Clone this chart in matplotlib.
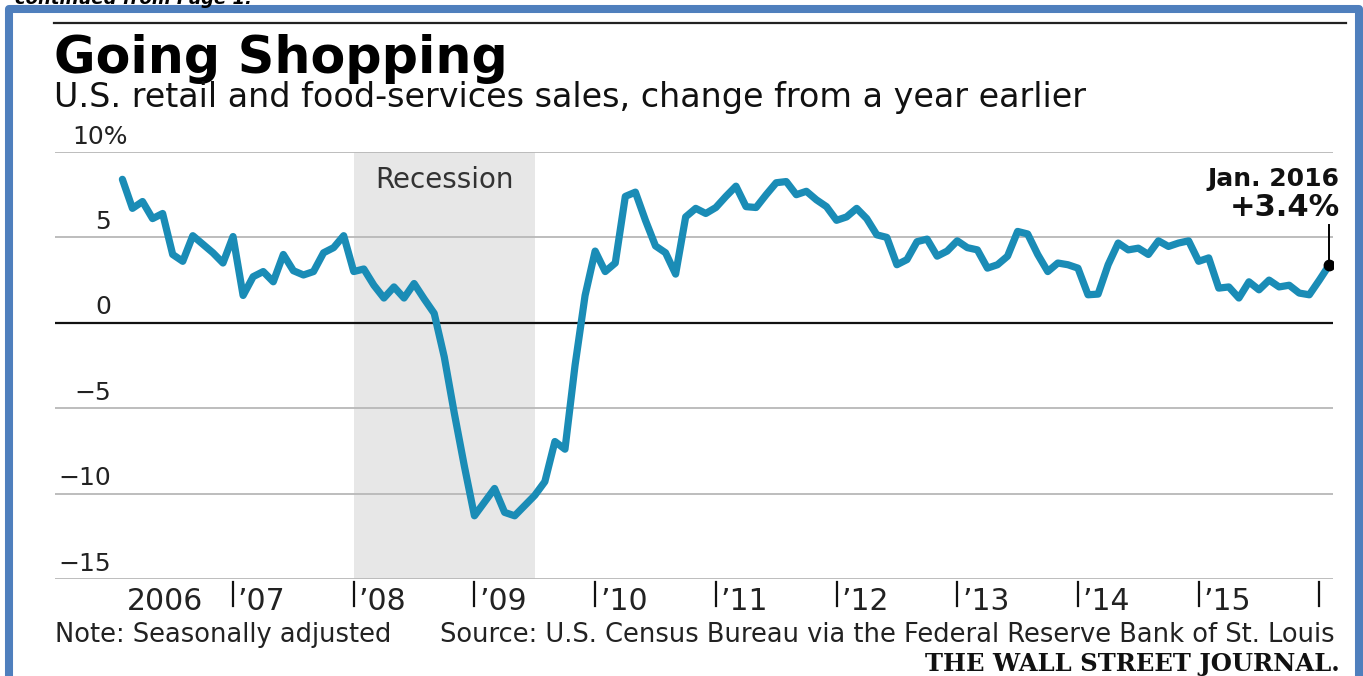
import matplotlib.pyplot as plt
import matplotlib.transforms as mtransforms
from matplotlib.patches import Rectangle
from matplotlib.lines import Line2D

W, H = 1363, 676

# U.S. retail and food-services sales, % change from a year earlier
# monthly, Jan. 2006 .. Jan. 2016
start_year = 2006
yoy_change = [
    8.4, 6.7, 7.1, 6.1, 6.4, 4.0, 3.6, 5.1, 4.6, 4.1, 3.5, 5.05,        # 2006
    1.6, 2.7, 3.0, 2.4, 4.0, 3.05, 2.8, 3.0, 4.1, 4.4, 5.1, 3.0,        # 2007
    3.15, 2.2, 1.45, 2.1, 1.45, 2.3, 1.4, 0.55, -2.0, -5.3, -8.4, -11.3,  # 2008
    -10.5, -9.7, -11.1, -11.3, -10.7, -10.1, -9.3, -6.95, -7.4, -2.5, 1.6, 4.2,  # 2009
    3.0, 3.5, 7.4, 7.65, 6.0, 4.5, 4.1, 2.85, 6.2, 6.7, 6.4, 6.75,      # 2010
    7.4, 8.0, 6.8, 6.75, 7.5, 8.2, 8.27, 7.5, 7.7, 7.2, 6.8, 6.0,       # 2011
    6.2, 6.7, 6.1, 5.15, 5.0, 3.4, 3.7, 4.75, 4.9, 3.9, 4.2, 4.8,       # 2012
    4.4, 4.27, 3.2, 3.4, 3.9, 5.35, 5.2, 4.0, 3.0, 3.5, 3.4, 3.2,       # 2013
    1.64, 1.68, 3.4, 4.67, 4.27, 4.37, 4.0, 4.8, 4.47, 4.67, 4.8, 3.6,  # 2014
    3.8, 2.03, 2.1, 1.45, 2.4, 1.93, 2.5, 2.1, 2.2, 1.74, 1.64, 2.5,    # 2015
    3.4,                                                                # 2016
]
months = [start_year + (i + 1) / 12 for i in range(len(yoy_change))]

y_ticks = [10, 5, 0, -5, -10, -15]
y_labels = ['10%', '5', '0', '\u22125', '\u221210', '\u221215']
year_ticks = list(range(2007, 2017))
year_label_pos = list(range(2006, 2016))
year_labels = ['2006', '\u201907', '\u201908', '\u201909', '\u201910',
               '\u201911', '\u201912', '\u201913', '\u201914', '\u201915']
recession = (2008.0, 2009.5)

line_color = '#1a8cb6'
grid_color = '#b8b8b8'
shade_color = '#e7e7e7'
border_color = '#4f7fbd'

plt.rcParams['font.family'] = 'DejaVu Sans'


def fx(px):
    return px / W


def fy(py):
    return 1 - py / H


fig = plt.figure(figsize=(W / 100, H / 100), dpi=100)
fig.patch.set_facecolor('white')

ax = fig.add_axes([fx(55), fy(579), (1333 - 55) / W, (579 - 152) / H])
ax.set_xlim(2005.525, 2016.113)
ax.set_ylim(-15, 10)
ax.axis('off')

ax.axvspan(*recession, color=shade_color, lw=0, zorder=0)
ax.text(sum(recession) / 2, 8.35, 'Recession', ha='center', va='center',
        fontsize=20, color='#333333')

for v in y_ticks:
    if v == 0:
        ax.axhline(v, color='#111111', lw=1.6, zorder=1)
    else:
        ax.axhline(v, color=grid_color, lw=1.3, zorder=1)

yt = mtransforms.blended_transform_factory(ax.transAxes, ax.transData)
for v, lab in zip(y_ticks, y_labels):
    if lab.endswith('%'):
        ax.text((72 - 55) / 1278, v + 0.9, lab, transform=yt, ha='left',
                va='center', fontsize=18, color='#222222')
    else:
        ax.text((111 - 55) / 1278, v + 0.9, lab, transform=yt, ha='right',
                va='center', fontsize=18, color='#222222')

ax.plot(months, yoy_change, color=line_color, lw=5.2,
        solid_joinstyle='round', solid_capstyle='round', zorder=3)

# latest value callout
ax.plot([months[-1], months[-1]], [yoy_change[-1], 5.75], color='black',
        lw=1.4, zorder=4)
ax.plot(months[-1], yoy_change[-1], 'o', color='black', ms=7.5, zorder=5)
fig.text(fx(1339), fy(179), 'Jan. 2016', ha='right', va='center',
         fontsize=18, fontweight='semibold', color='#111111')
fig.text(fx(1340), fy(208), '+3.4%', ha='right', va='center',
         fontsize=22, fontweight='bold', color='#111111')

# year ticks and labels
xt = ax.get_xaxis_transform()
for yr in year_ticks:
    ax.plot([yr, yr], [-0.008, -0.063], transform=xt, color='#111111',
            lw=1.6, clip_on=False)
for yr, lab in zip(year_label_pos, year_labels):
    off = 0.12 if yr == 2006 else 0.04
    ax.text(yr + off, -0.052, lab, transform=xt, ha='left', va='center',
            fontsize=21.5, color='#222222')

# headline block
fig.add_artist(Line2D([fx(54), fx(1346)], [fy(23), fy(23)], color='#222222',
                      lw=1.6))
fig.text(fx(54), fy(73), 'Going Shopping', fontsize=36.5, fontweight='bold',
         va='baseline', color='black')
fig.text(fx(54), fy(107),
         'U.S. retail and food-services sales, change from a year earlier',
         fontsize=24, va='baseline', color='#111111')

# footer
fig.text(fx(55), fy(635), 'Note: Seasonally adjusted', fontsize=18.5,
         va='center', color='#222222')
fig.text(fx(1335), fy(635),
         'Source: U.S. Census Bureau via the Federal Reserve Bank of St. Louis',
         fontsize=18.5, va='center', ha='right', color='#222222')
fig.text(fx(1340), fy(664), 'THE WALL STREET JOURNAL.', fontsize=17.5,
         fontweight='bold', family='DejaVu Serif', ha='right', va='center',
         color='#111111')

# page clipping: text above the frame and the blue frame
fig.text(fx(15), fy(4), 'continued from Page 1.', fontsize=13,
         fontweight='bold', style='italic', va='baseline', color='black')
fig.add_artist(Rectangle((fx(8.5), fy(720)), (1358.5 - 8.5) / W,
                         (720 - 9) / H, transform=fig.transFigure,
                         fill=False, ec=border_color, lw=5.8,
                         joinstyle='round'))

fig.savefig('out.png', dpi=100)
